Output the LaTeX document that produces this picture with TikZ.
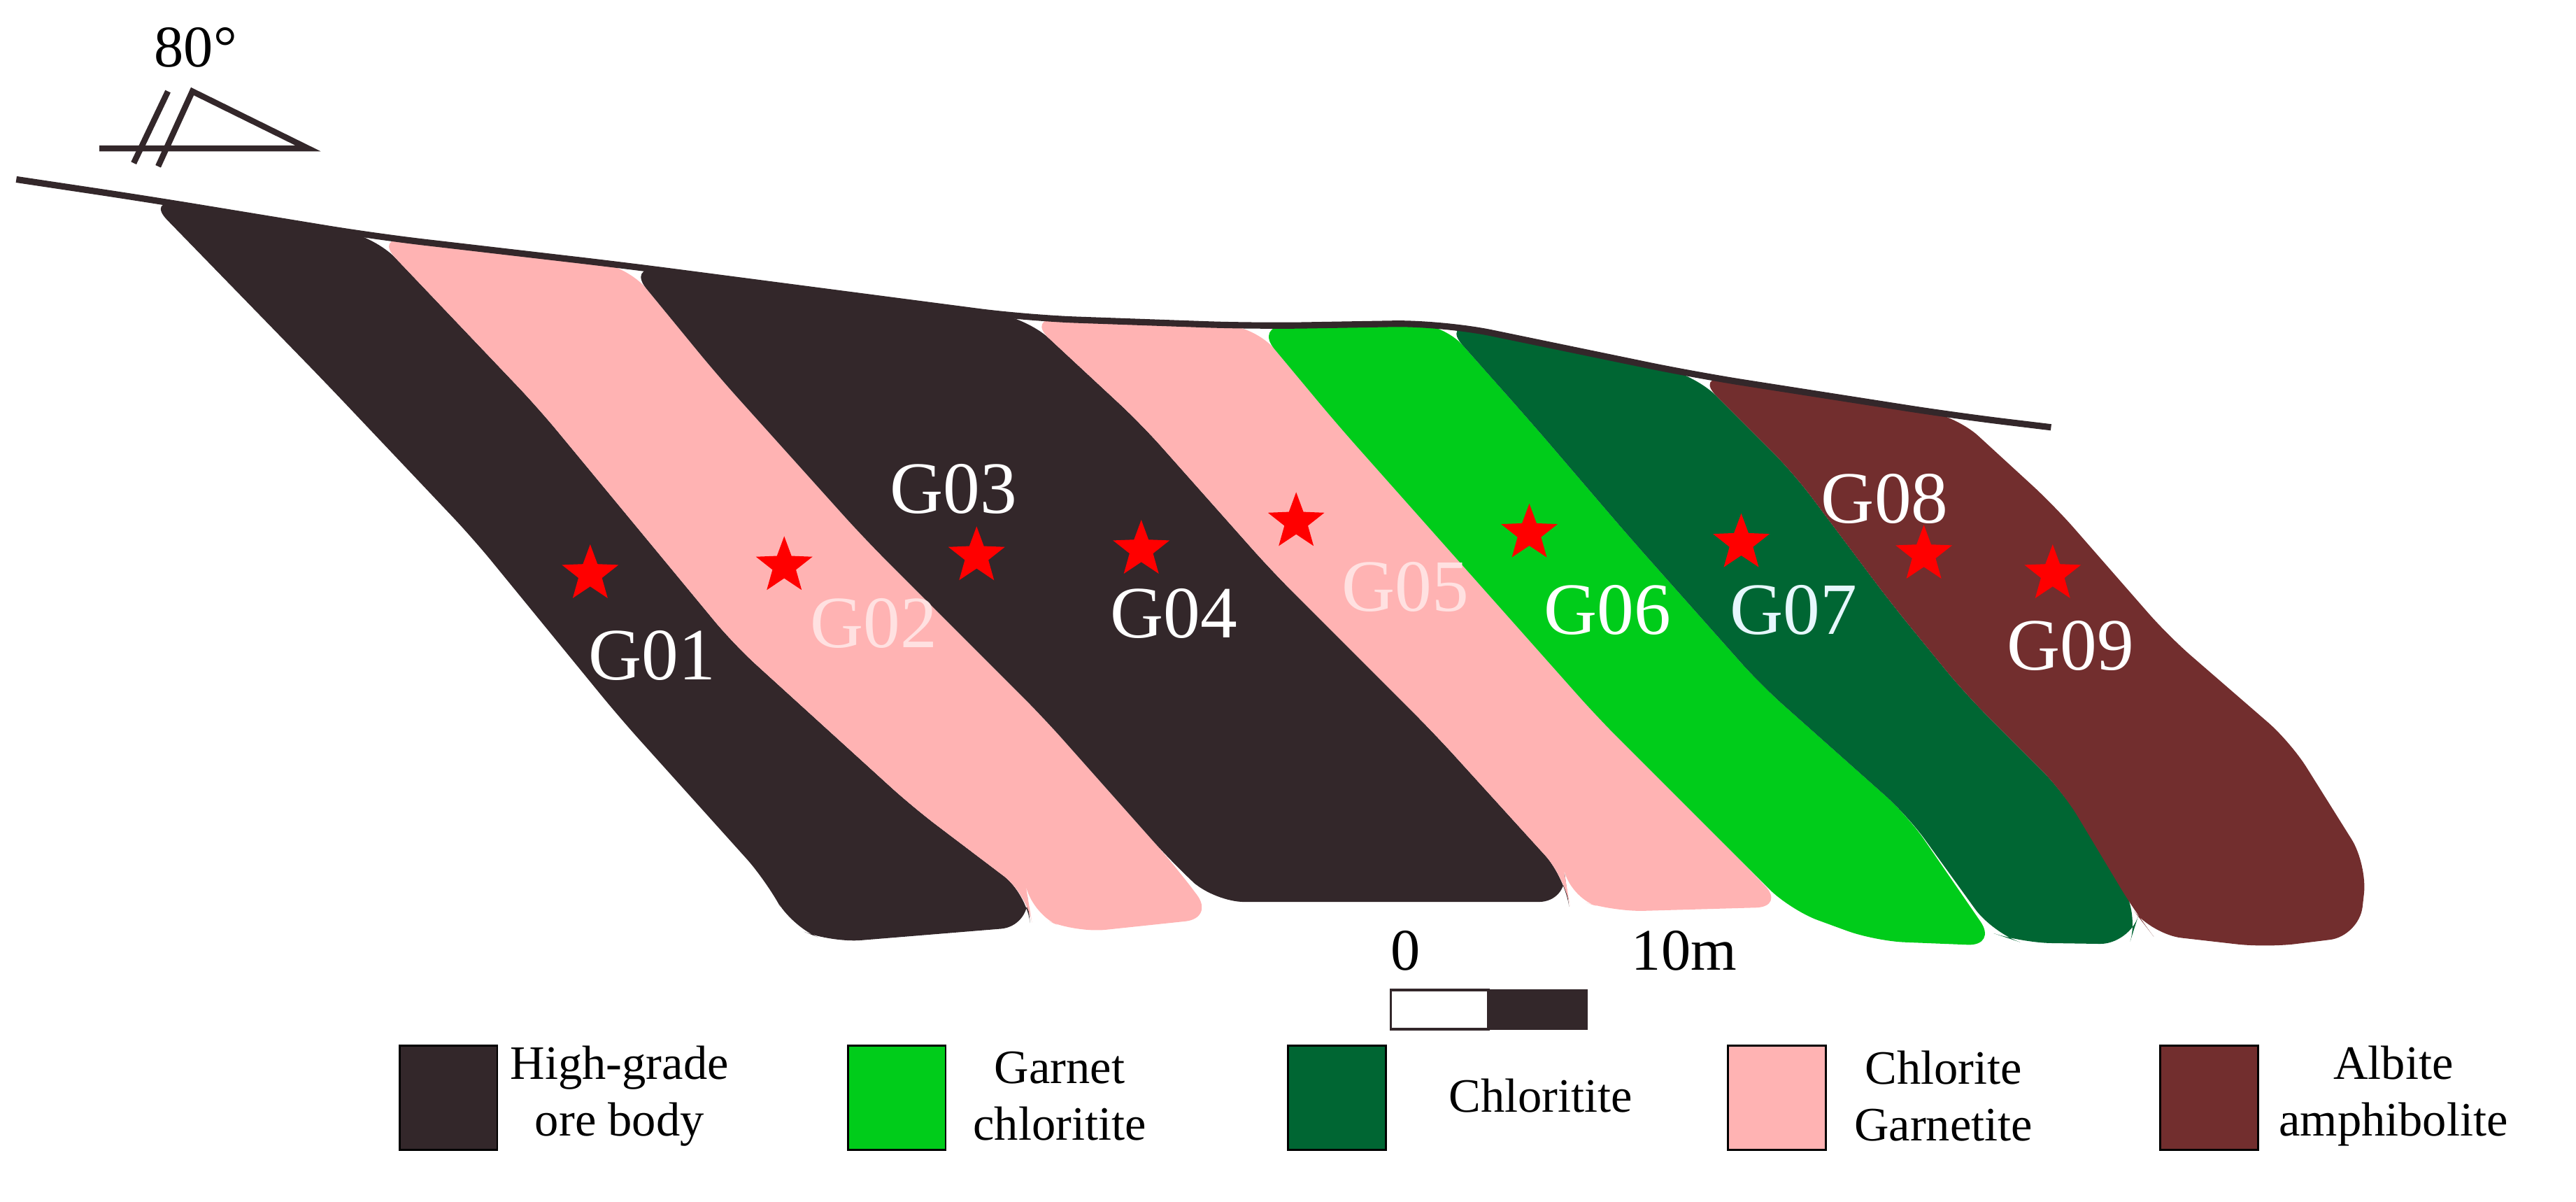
\documentclass[tikz,border=0pt]{standalone}
\usepackage{fontspec}
\setmainfont{Liberation Serif}
\usetikzlibrary{shapes.geometric}
\definecolor{ore}{HTML}{33272A}
\definecolor{pk}{HTML}{FFB3B3}
\definecolor{gr}{HTML}{00CC1A}
\definecolor{dg}{HTML}{006633}
\definecolor{br}{HTML}{722E2E}
\tikzset{
 starmark/.style={star,star points=5,star point ratio=2.4,fill=red,draw=none,minimum size=0.85cm,inner sep=0pt},
 glab/.style={font=\fontsize{30}{30}\selectfont,text=white,inner sep=0pt},
 legtxt/.style={font=\fontsize{19.5}{23}\selectfont,align=center,inner sep=0pt},
 legbox/.style={draw=black,line width=0.8pt},
 band/.style={rounded corners=12pt}
}
\begin{document}
\begin{tikzpicture}[x=0.02331cm,y=-0.02331cm]
\useasboundingbox (0,0) rectangle (1580,736.6);
% bands
\fill[ore,band] (90,122) -- (230,145) -- (330,250) -- (450,395) -- (560,495) -- (630,548) -- (632,568) -- (510,578) -- (485,568) -- (470,540) -- (380,440) -- (290,330) -- (200,235) -- cycle;
\fill[pk,band] (230,145) -- (385,163) -- (440,230) -- (530,330) -- (640,440) -- (720,530) -- (745,563) -- (660,572) -- (632,560) -- (630,548) -- (560,495) -- (450,395) -- (330,250) -- cycle;
\fill[ore,band] (385,163) -- (630,195) -- (700,260) -- (780,350) -- (880,450) -- (960,538) -- (962,553) -- (780,553) -- (745,553) -- (720,530) -- (640,440) -- (530,330) -- (440,230) -- cycle;
\fill[pk,band] (630,195) -- (770,200) -- (820,260) -- (900,350) -- (980,440) -- (1070,530) -- (1095,556) -- (990,559) -- (962,550) -- (960,538) -- (880,450) -- (780,350) -- (700,260) -- cycle;
\fill[gr,band] (770,200) -- (885,198) -- (940,260) -- (1000,330) -- (1080,420) -- (1170,500) -- (1225,580) -- (1150,577) -- (1098,558) -- (1070,530) -- (980,440) -- (900,350) -- (820,260) -- cycle;
\fill[dg,band] (885,198) -- (1040,230) -- (1100,290) -- (1160,370) -- (1205,425) -- (1265,485) -- (1312,560) -- (1306,579) -- (1240,578) -- (1222,572) -- (1170,500) -- (1080,420) -- (1000,330) -- (940,260) -- cycle;
\fill[br,band] (1040,230) -- (1200,255) -- (1260,310) -- (1330,390) -- (1405,455) -- (1452,530) -- (1447,574) -- (1390,581) -- (1320,573) -- (1310,560) -- (1265,485) -- (1205,425) -- (1160,370) -- (1100,290) -- cycle;
% surface line
\draw[ore,line width=2.6pt,rounded corners=20pt] (10,110) -- (90,122) -- (230,145) -- (385,163) -- (630,195) -- (770,200) -- (885,198) -- (1040,230) -- (1200,255) -- (1258,262);
% orientation symbol
\draw[ore,line width=2.4pt] (61,91) -- (189,91) -- (118,56) -- (97,102);
\draw[ore,line width=2.4pt] (103,56) -- (82,100);
\node[font=\fontsize{24}{24}\selectfont,inner sep=0pt] (dip) at (120,29) {80°};
% stars
\foreach \n/\x/\y in {s1/362/352,s2/481/347,s3/599/341,s4/700/337,s5/795/320,s6/938/327,s7/1068/333,s8/1180/340,s9/1259/352}
  \node[starmark] (\n) at (\x,\y) {};
% labels
\node[glab] (g1) at (400,402) {G01};
\node[glab,text=pk!40!white] (g2) at (536,382) {G02};
\node[glab] (g3) at (585,300) {G03};
\node[glab] (g4) at (720,376) {G04};
\node[glab,text=pk!40!white] (g5) at (862,360) {G05};
\node[glab] (g6) at (986,374) {G06};
\node[glab,text=cyan!10!white] (g7) at (1100,374) {G07};
\node[glab] (g8) at (1156,306) {G08};
\node[glab] (g9) at (1270,396) {G09};
% scale bar
\draw[ore,line width=1pt] (853,607) rectangle (913,631);
\fill[ore] (913,606.5) rectangle (974,631.5);
\node[font=\fontsize{24}{24}\selectfont,inner sep=0pt] (z0) at (862,583) {0};
\node[font=\fontsize{24}{24}\selectfont,inner sep=0pt] (z10) at (1033,583) {10m};
% legend
\draw[legbox,fill=ore] (245,641) rectangle (305,705);
\node[legtxt] (l1) at (380,672) {High-grade\\ore body};
\draw[legbox,fill=gr] (520,641) rectangle (580,705);
\node[legtxt] (l2) at (650,672) {Garnet\\chloritite};
\draw[legbox,fill=dg] (790,641) rectangle (850,705);
\node[legtxt] (l3) at (945,672) {Chloritite};
\draw[legbox,fill=pk] (1060,641) rectangle (1120,705);
\node[legtxt] (l4) at (1192,672) {Chlorite\\Garnetite};
\draw[legbox,fill=br] (1325,641) rectangle (1385,705);
\node[legtxt] (l5) at (1468,672) {Albite\\amphibolite};
\end{tikzpicture}
\end{document}
